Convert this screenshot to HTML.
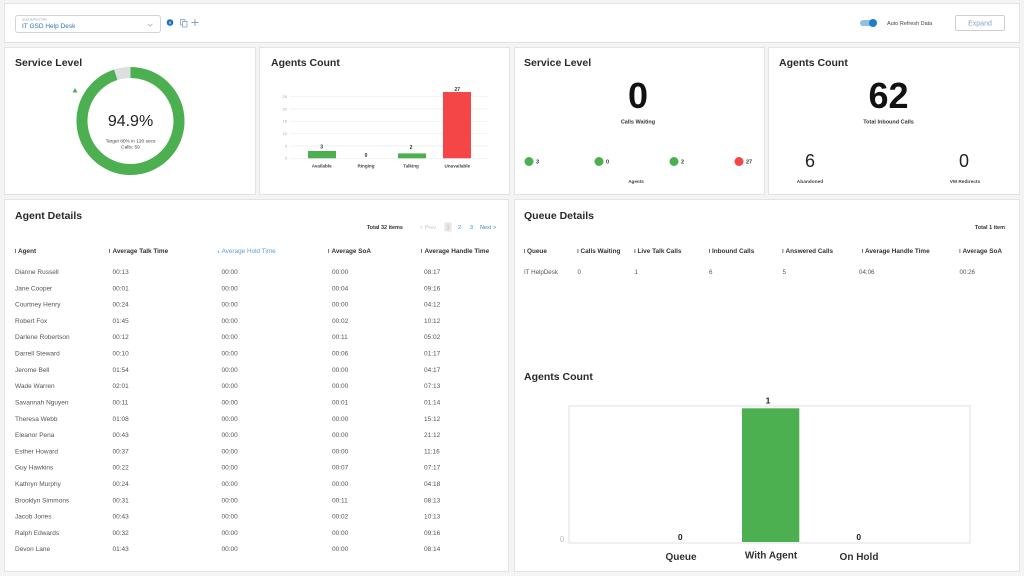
<!DOCTYPE html>
<html>
<head>
<meta charset="utf-8">
<style>
html,body{margin:0;padding:0;background:#f4f4f4;}
svg{display:block;}
text{font-family:"Liberation Sans",Arial,sans-serif;}
.t{font-size:10.5px;font-weight:bold;fill:#2a2a2a;}
.h{font-size:6.4px;font-weight:bold;fill:#333;}
.d{font-size:6.5px;fill:#555;}
.s{font-size:5.5px;fill:#444;}
</style>
</head>
<body>
<svg width="1024" height="576" viewBox="0 0 1024 576" xmlns="http://www.w3.org/2000/svg">
<rect x="0" y="0" width="1024" height="576" fill="#f4f4f4"/>
<!-- cards -->
<g fill="#fff" stroke="#e3e3e3" stroke-width="1">
<rect x="4.5" y="3.5" width="1015" height="39"/>
<rect x="4.5" y="47.5" width="251" height="147"/>
<rect x="259.5" y="47.5" width="250" height="147"/>
<rect x="514.5" y="47.5" width="250" height="147"/>
<rect x="768.5" y="47.5" width="251" height="147"/>
<rect x="4.5" y="199.5" width="504" height="372"/>
<rect x="514.5" y="199.5" width="505" height="372"/>
</g>

<!-- top bar -->
<rect x="15.5" y="15.5" width="145" height="17" rx="2.5" fill="#fff" stroke="#cfd4d9"/>
<text x="22" y="20.5" style="font-size:3px;fill:#999;">QUEUE/ROUTING</text>
<text x="22" y="28" style="font-size:6.5px;fill:#2f74b5;">IT GSD Help Desk</text>
<path d="M148 24 l2.2 2 l2.2 -2" fill="none" stroke="#aaa" stroke-width="0.8"/>
<circle cx="170" cy="22.5" r="3.3" fill="#1f6fb5"/>
<rect x="169.5" y="21.5" width="1" height="2.6" fill="#fff"/>
<rect x="180.5" y="19.5" width="4.5" height="5.5" fill="none" stroke="#7aa3c8" stroke-width="0.8"/>
<rect x="182.5" y="21.5" width="4.5" height="5.5" fill="#fff" stroke="#7aa3c8" stroke-width="0.8"/>
<path d="M195 19v7M191.5 22.5h7" stroke="#7aa3c8" stroke-width="0.9"/>

<rect x="860" y="20" width="16" height="6" rx="3" fill="#8fc0e8"/>
<circle cx="873" cy="23" r="4" fill="#1f7fc6"/>
<text x="887" y="25" class="s">Auto Refresh Data</text>
<rect x="955.5" y="15.5" width="49" height="15" rx="1.5" fill="#fff" stroke="#cfcfcf"/>
<text x="980" y="25.5" text-anchor="middle" style="font-size:7px;fill:#7ea6cc;">Expand</text>

<!-- Service Level donut -->
<text x="15" y="66" class="t">Service Level</text>
<circle cx="130.5" cy="121" r="48.5" fill="none" stroke="#dcdfe0" stroke-width="11"/>
<circle cx="130.5" cy="121" r="48.5" fill="none" stroke="#4caf50" stroke-width="11" stroke-dasharray="289.2 400" transform="rotate(-90 130.5 121)"/>
<path d="M72.5 92.5 L75 88 L77.5 92.5 Z" fill="#4caf50"/>
<text x="130.5" y="126" text-anchor="middle" style="font-size:16px;fill:#222;">94.9%</text>
<text x="130.5" y="142.5" text-anchor="middle" style="font-size:4.8px;fill:#444;">Target 80% in 120 secs</text>
<text x="130.5" y="148.5" text-anchor="middle" style="font-size:4.8px;fill:#444;">Calls: 59</text>

<!-- Agents Count bar chart -->
<text x="271" y="66" class="t">Agents Count</text>
<g stroke="#eeeeee" stroke-width="0.7">
<line x1="290" y1="96.7" x2="488" y2="96.7"/>
<line x1="290" y1="109" x2="488" y2="109"/>
<line x1="290" y1="121.3" x2="488" y2="121.3"/>
<line x1="290" y1="133.7" x2="488" y2="133.7"/>
<line x1="290" y1="146" x2="488" y2="146"/>
<line x1="290" y1="158.3" x2="488" y2="158.3"/>
</g>
<g style="font-size:4px;fill:#aaa;" text-anchor="end">
<text x="287" y="98">25</text><text x="287" y="110.3">20</text><text x="287" y="122.6">15</text>
<text x="287" y="135">10</text><text x="287" y="147.3">5</text><text x="287" y="159.6">0</text>
</g>
<rect x="308" y="151" width="28" height="7.3" fill="#4caf50"/>
<rect x="398" y="153.4" width="28" height="4.9" fill="#4caf50"/>
<rect x="443" y="92" width="28" height="66.3" fill="#f44646"/>
<g style="font-size:5px;font-weight:bold;fill:#333;" text-anchor="middle">
<text x="321.7" y="148.5">3</text><text x="366" y="157">0</text><text x="411" y="149">2</text><text x="457.3" y="91">27</text>
</g>
<g style="font-size:4.6px;font-weight:bold;fill:#444;" text-anchor="middle">
<text x="321.7" y="167.5">Available</text><text x="366" y="167.5">Ringing</text><text x="411" y="167.5">Talking</text><text x="457.3" y="167.5">Unavailable</text>
</g>

<!-- Service Level card 3 -->
<text x="524" y="66" class="t">Service Level</text>
<text x="638" y="108" text-anchor="middle" style="font-size:36px;font-weight:bold;fill:#111;">0</text>
<text x="638" y="123.5" text-anchor="middle" style="font-size:5.5px;font-weight:bold;fill:#333;">Calls Waiting</text>
<circle cx="529" cy="161.5" r="4.5" fill="#4caf50"/>
<circle cx="599" cy="161.5" r="4.5" fill="#4caf50"/>
<circle cx="674" cy="161.5" r="4.5" fill="#4caf50"/>
<circle cx="739" cy="161.5" r="4.5" fill="#f44646"/>
<g style="font-size:5.5px;font-weight:bold;fill:#333;">
<text x="536" y="163.5">3</text><text x="606" y="163.5">0</text><text x="681" y="163.5">2</text><text x="746" y="163.5">27</text>
</g>
<text x="636" y="183" text-anchor="middle" style="font-size:4.6px;font-weight:bold;fill:#444;">Agents</text>

<!-- Agents Count card 4 -->
<text x="779" y="66" class="t">Agents Count</text>
<text x="888.5" y="108" text-anchor="middle" style="font-size:36px;font-weight:bold;fill:#111;">62</text>
<text x="888.5" y="123.5" text-anchor="middle" style="font-size:5.5px;font-weight:bold;fill:#333;">Total Inbound Calls</text>
<text x="810" y="167" text-anchor="middle" style="font-size:18px;fill:#222;">6</text>
<text x="964" y="167" text-anchor="middle" style="font-size:18px;fill:#222;">0</text>
<text x="810" y="183" text-anchor="middle" style="font-size:4.8px;font-weight:bold;fill:#444;">Abandoned</text>
<text x="965" y="183" text-anchor="middle" style="font-size:4.8px;font-weight:bold;fill:#444;">VM Redirects</text>

<!-- Agent Details -->
<text x="15" y="219" class="t">Agent Details</text>
<text x="403" y="229" text-anchor="end" style="font-size:5.5px;font-weight:bold;fill:#333;">Total 32 items</text>
<text x="420" y="229" style="font-size:5.5px;fill:#c8c8c8;">&lt; Prev</text>
<rect x="444.5" y="222.5" width="7" height="9" fill="#e6e6e6"/>
<text x="448" y="229" text-anchor="middle" style="font-size:5.5px;fill:#bbb;">1</text>
<text x="458" y="229" style="font-size:5.5px;fill:#3f86c8;">2</text>
<text x="470" y="229" style="font-size:5.5px;fill:#3f86c8;">3</text>
<text x="480" y="229" style="font-size:5.5px;fill:#3f86c8;">Next &gt;</text>

<g class="h">
<rect x="15" y="249" width="0.8" height="4" fill="#555"/><text x="18" y="253.2">Agent</text>
<rect x="109" y="249" width="0.8" height="4" fill="#555"/><text x="112.5" y="253.2">Average Talk Time</text>
<rect x="218" y="250.5" width="0.8" height="2.5" fill="#5aa0d8"/><text x="221.5" y="253.2" style="fill:#5aa0d8;font-weight:normal;">Average Hold Time</text>
<rect x="328" y="249" width="0.8" height="4" fill="#555"/><text x="331.5" y="253.2">Average SoA</text>
<rect x="421" y="249" width="0.8" height="4" fill="#555"/><text x="424.5" y="253.2">Average Handle Time</text>
</g>
<g class="d">
<text x="15" y="274">Dianne Russell</text><text x="112.5" y="274">00:13</text><text x="221.5" y="274">00:00</text><text x="332" y="274">00:00</text><text x="424" y="274">08:17</text>
<text x="15" y="290.3">Jane Cooper</text><text x="112.5" y="290.3">00:01</text><text x="221.5" y="290.3">00:00</text><text x="332" y="290.3">00:04</text><text x="424" y="290.3">09:16</text>
<text x="15" y="306.6">Courtney Henry</text><text x="112.5" y="306.6">00:24</text><text x="221.5" y="306.6">00:00</text><text x="332" y="306.6">00:00</text><text x="424" y="306.6">04:12</text>
<text x="15" y="322.9">Robert Fox</text><text x="112.5" y="322.9">01:45</text><text x="221.5" y="322.9">00:00</text><text x="332" y="322.9">00:02</text><text x="424" y="322.9">10:12</text>
<text x="15" y="339.2">Darlene Robertson</text><text x="112.5" y="339.2">00:12</text><text x="221.5" y="339.2">00:00</text><text x="332" y="339.2">00:11</text><text x="424" y="339.2">05:02</text>
<text x="15" y="355.5">Darrell Steward</text><text x="112.5" y="355.5">00:10</text><text x="221.5" y="355.5">00:00</text><text x="332" y="355.5">00:06</text><text x="424" y="355.5">01:17</text>
<text x="15" y="371.9">Jerome Bell</text><text x="112.5" y="371.9">01:54</text><text x="221.5" y="371.9">00:00</text><text x="332" y="371.9">00:00</text><text x="424" y="371.9">04:17</text>
<text x="15" y="388.2">Wade Warren</text><text x="112.5" y="388.2">02:01</text><text x="221.5" y="388.2">00:00</text><text x="332" y="388.2">00:00</text><text x="424" y="388.2">07:13</text>
<text x="15" y="404.5">Savannah Nguyen</text><text x="112.5" y="404.5">00:11</text><text x="221.5" y="404.5">00:00</text><text x="332" y="404.5">00:01</text><text x="424" y="404.5">01:14</text>
<text x="15" y="420.8">Theresa Webb</text><text x="112.5" y="420.8">01:08</text><text x="221.5" y="420.8">00:00</text><text x="332" y="420.8">00:00</text><text x="424" y="420.8">15:12</text>
<text x="15" y="437.1">Eleanor Pena</text><text x="112.5" y="437.1">00:43</text><text x="221.5" y="437.1">00:00</text><text x="332" y="437.1">00:00</text><text x="424" y="437.1">21:12</text>
<text x="15" y="453.4">Esther Howard</text><text x="112.5" y="453.4">00:37</text><text x="221.5" y="453.4">00:00</text><text x="332" y="453.4">00:00</text><text x="424" y="453.4">11:16</text>
<text x="15" y="469.7">Guy Hawkins</text><text x="112.5" y="469.7">00:22</text><text x="221.5" y="469.7">00:00</text><text x="332" y="469.7">00:07</text><text x="424" y="469.7">07:17</text>
<text x="15" y="486">Kathryn Murphy</text><text x="112.5" y="486">00:24</text><text x="221.5" y="486">00:00</text><text x="332" y="486">00:00</text><text x="424" y="486">04:18</text>
<text x="15" y="502.3">Brooklyn Simmons</text><text x="112.5" y="502.3">00:31</text><text x="221.5" y="502.3">00:00</text><text x="332" y="502.3">00:11</text><text x="424" y="502.3">08:13</text>
<text x="15" y="518.6">Jacob Jones</text><text x="112.5" y="518.6">00:43</text><text x="221.5" y="518.6">00:00</text><text x="332" y="518.6">00:02</text><text x="424" y="518.6">10:13</text>
<text x="15" y="534.9">Ralph Edwards</text><text x="112.5" y="534.9">00:32</text><text x="221.5" y="534.9">00:00</text><text x="332" y="534.9">00:00</text><text x="424" y="534.9">09:16</text>
<text x="15" y="551.2">Devon Lane</text><text x="112.5" y="551.2">01:43</text><text x="221.5" y="551.2">00:00</text><text x="332" y="551.2">00:00</text><text x="424" y="551.2">08:14</text>
</g>

<!-- Queue Details -->
<text x="524" y="219" class="t">Queue Details</text>
<text x="1005" y="229" text-anchor="end" style="font-size:5.5px;font-weight:bold;fill:#333;">Total 1 item</text>
<g class="h">
<rect x="524" y="249" width="0.8" height="4" fill="#555"/><text x="527" y="253.2">Queue</text>
<rect x="577.5" y="249" width="0.8" height="4" fill="#555"/><text x="580.5" y="253.2">Calls Waiting</text>
<rect x="634.5" y="249" width="0.8" height="4" fill="#555"/><text x="637.5" y="253.2">Live Talk Calls</text>
<rect x="709" y="249" width="0.8" height="4" fill="#555"/><text x="712" y="253.2">Inbound Calls</text>
<rect x="782.5" y="249" width="0.8" height="4" fill="#555"/><text x="785.5" y="253.2">Answered Calls</text>
<rect x="862" y="249" width="0.8" height="4" fill="#555"/><text x="865" y="253.2">Average Handle Time</text>
<rect x="959.5" y="249" width="0.8" height="4" fill="#555"/><text x="962.5" y="253.2">Average SoA</text>
</g>
<g class="d" style="font-size:6.2px;">
<text x="524" y="274">IT HelpDesk</text><text x="577.5" y="274">0</text><text x="634.5" y="274">1</text><text x="709" y="274">6</text><text x="782.5" y="274">5</text><text x="859" y="274">04:06</text><text x="959.5" y="274">00:26</text>
</g>

<!-- Agents Count lower chart -->
<text x="524" y="380" class="t">Agents Count</text>
<rect x="569" y="406" width="401" height="137" fill="#fff" stroke="#e2e2e2" stroke-width="1"/>
<rect x="742" y="408.3" width="57.3" height="133.7" fill="#4caf50"/>
<text x="768" y="403.5" text-anchor="middle" style="font-size:8.5px;font-weight:bold;fill:#222;">1</text>
<text x="562" y="542" text-anchor="middle" style="font-size:8px;fill:#bbb;">0</text>
<text x="680.3" y="540" text-anchor="middle" style="font-size:8.5px;font-weight:bold;fill:#222;">0</text>
<text x="858.7" y="540" text-anchor="middle" style="font-size:8.5px;font-weight:bold;fill:#222;">0</text>
<g style="font-size:10px;font-weight:bold;fill:#333;" text-anchor="middle">
<text x="681" y="560">Queue</text>
<text x="771" y="558.5">With Agent</text>
<text x="859" y="560">On Hold</text>
</g>
</svg>
</body>
</html>
